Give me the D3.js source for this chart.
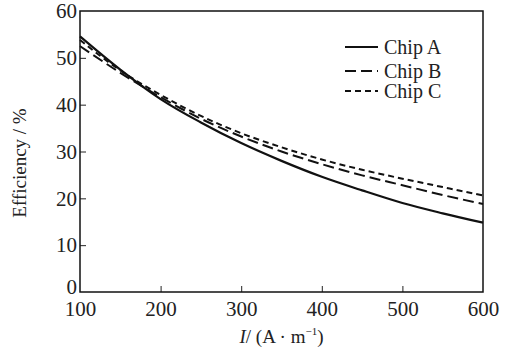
<!DOCTYPE html>
<html>
<head>
<meta charset="utf-8">
<script src="https://cdn.jsdelivr.net/npm/d3@7"></script>
<style>
  body { margin: 0; background: #fff; }
  text { font-family: "Liberation Serif", "DejaVu Serif", serif; fill: #222; }
</style>
</head>
<body>
<div id="chart"></div>
<script>
// Data
const current = [100, 150, 200, 250, 300, 350, 400, 450, 500, 550, 600];
const chipA = [54.6, 47.5, 41.2, 36.2, 31.8, 28.0, 24.6, 21.7, 19.0, 16.8, 14.8];
const chipB = [52.5, 46.8, 41.6, 37.0, 33.2, 30.0, 27.3, 24.9, 22.8, 20.7, 18.8];
const chipC = [53.8, 47.3, 42.1, 37.6, 33.9, 30.9, 28.3, 26.1, 24.2, 22.4, 20.6];
const seriesNames = ["Chip A", "Chip B", "Chip C"];
const xTicks = [100, 200, 300, 400, 500, 600];
const yTicks = [0, 10, 20, 30, 40, 50, 60];

const width = 510, height = 352;
const margin = { top: 11, right: 27, bottom: 60, left: 80 };

const svg = d3.select("#chart").append("svg")
    .attr("width", width)
    .attr("height", height);

const x = d3.scaleLinear().domain([100, 600]).range([margin.left, width - margin.right]);
const y = d3.scaleLinear().domain([0, 60]).range([height - margin.bottom, margin.top]);

const x0 = x.range()[0], x1 = x.range()[1];
const yB = y(0), yT = y(60);

// x axis (ticks pointing inward)
const xAxis = svg.append("g")
    .attr("transform", `translate(0,${yB})`)
    .call(d3.axisBottom(x).tickValues(xTicks).tickSizeInner(-6).tickSizeOuter(0).tickPadding(9));
xAxis.select(".domain").remove();
xAxis.selectAll(".tick line").filter(d => d === 100 || d === 600).remove();
xAxis.selectAll("text").attr("font-size", 21).attr("font-family", "Liberation Serif").attr("fill", "#222");
xAxis.selectAll(".tick line").attr("stroke", "#222");

// y axis
const yAxis = svg.append("g")
    .attr("transform", `translate(${x0},0)`)
    .call(d3.axisLeft(y).tickValues(yTicks).tickSizeInner(-6).tickSizeOuter(0).tickPadding(3));
yAxis.select(".domain").remove();
yAxis.selectAll(".tick line").filter(d => d === 0 || d === 60).remove();
yAxis.selectAll("text").attr("font-size", 21).attr("font-family", "Liberation Serif").attr("fill", "#222");
// the 0 label sits a little higher so it clears the 100 below it
yAxis.selectAll(".tick text").filter(d => d === 0).attr("dy", "0.05em");
yAxis.selectAll(".tick line").attr("stroke", "#222");

// frame
svg.append("rect")
    .attr("x", x0).attr("y", yT)
    .attr("width", x1 - x0).attr("height", yB - yT)
    .attr("fill", "none").attr("stroke", "#111").attr("stroke-width", 1.5);

// lines
const dashes = [null, "11,5", "6,4"];
const allSeries = [chipA, chipB, chipC];
const line = d3.line()
    .x((d, i) => x(current[i]))
    .y(d => y(d))
    .curve(d3.curveMonotoneX);

allSeries.forEach((s, k) => {
    svg.append("path")
        .datum(s)
        .attr("d", line)
        .attr("fill", "none")
        .attr("stroke", "#111")
        .attr("stroke-width", k === 0 ? 2.2 : 2)
        .attr("stroke-dasharray", dashes[k]);
});

// legend
const legend = svg.append("g").attr("transform", "translate(345,47)");
seriesNames.forEach((name, k) => {
    const gy = k === 0 ? 0 : (k === 1 ? 24 : 44);
    legend.append("line")
        .attr("x1", 0).attr("x2", 33)
        .attr("y1", gy).attr("y2", gy)
        .attr("stroke", "#111")
        .attr("stroke-width", 2.2)
        .attr("stroke-dasharray", k === 1 ? "11,5" : (k === 2 ? "6,4" : null));
    legend.append("text")
        .attr("x", 39).attr("y", gy)
        .attr("dy", "0.35em")
        .attr("font-size", 20)
        .text(name);
});

// y label
svg.append("text")
    .attr("transform", `translate(26,${163}) rotate(-90)`)
    .attr("text-anchor", "middle")
    .attr("font-size", 19)
    .text("Efficiency / %");

// x label
const xl = svg.append("text")
    .attr("x", (x0 + x1) / 2)
    .attr("y", 343)
    .attr("text-anchor", "middle")
    .attr("font-size", 19);
xl.append("tspan").attr("font-style", "italic").text("I");
xl.append("tspan").text("/ (A · m");
xl.append("tspan").attr("font-size", 11).attr("dy", -8).text("−1");
xl.append("tspan").attr("dy", 8).text(")");
</script>
</body>
</html>
